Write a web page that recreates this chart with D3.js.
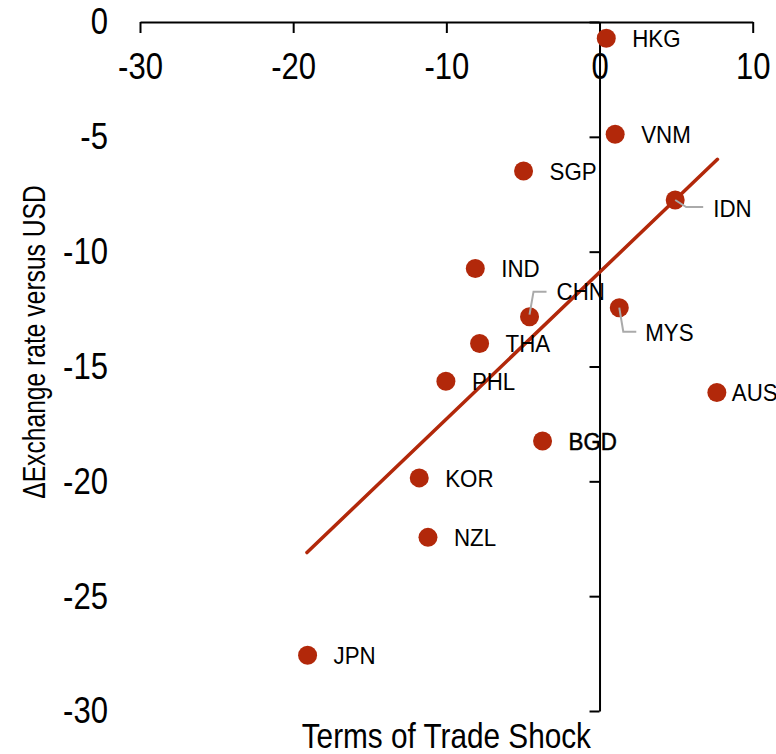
<!DOCTYPE html>
<html>
<head>
<meta charset="utf-8">
<script src="https://cdn.jsdelivr.net/npm/d3@7"></script>
<style>
  body { margin: 0; background: #fff; }
  text { font-family: "Liberation Sans", Arial, sans-serif; }
</style>
</head>
<body>
<div id="wrapper"></div>
<script>
const DOT_COLOR = "#b2280a";
const LEADER_COLOR = "#aaaaaa";

const countries = ["HKG", "VNM", "SGP", "IDN", "IND", "CHN", "MYS", "THA", "PHL", "AUS", "BGD", "KOR", "NZL", "JPN"];
const totShock = [0.44, 1.02, -4.96, 4.94, -8.11, -4.57, 1.29, -7.83, -10.03, 7.66, -3.72, -11.77, -11.2, -19.06];
const fxChange = [-0.71, -4.89, -6.49, -7.75, -10.73, -12.83, -12.44, -14.0, -15.64, -16.13, -18.24, -19.85, -22.44, -27.57];

const trendX = [-19.1, 7.7];
const trendY = [-23.1, -5.98];

const xTicks = [-30, -20, -10, 0, 10];
const yTicks = [0, -5, -10, -15, -20, -25, -30];

// label placement, px relative to the dot
const labelOffset = {
  AUS: [15, 0],
  IDN: [38, 8],
  CHN: [27, -25],
  MYS: [26, 25]
};
const leaders = {
  IDN: [[0, 0], [11, 7], [28, 7]],
  CHN: [[0, -2], [4, -25], [17, -25]],
  MYS: [[0, 0], [4, 24], [17, 24]]
};

// the original uses a narrow face, no narrow font here so squeeze it
const TICK_SQUEEZE = 0.84;
const LABEL_SQUEEZE = 0.93;

function drawChart() {
  const data = countries.map((c, i) => ({ name: c, x: totShock[i], y: fxChange[i] }));

  const width = 776;
  const height = 754;

  const svg = d3.select("#wrapper")
    .append("svg")
    .attr("width", width)
    .attr("height", height);

  const xScale = d3.scaleLinear()
    .domain([-30, 10])
    .range([140, 752.7]);

  const yScale = d3.scaleLinear()
    .domain([-30, 0])
    .range([711, 22]);

  // x axis along the top
  const xAxis = svg.append("g")
    .attr("transform", `translate(0, ${yScale(0)})`)
    .call(d3.axisBottom(xScale)
      .tickValues(xTicks)
      .tickSize(11)
      .tickSizeOuter(0)
      .tickPadding(20)
      .tickFormat(d => String(d)));

  xAxis.select(".domain").attr("stroke-width", 2);
  xAxis.selectAll(".tick line").attr("stroke-width", 2);
  xAxis.selectAll("text")
    .style("font-size", "37px")
    .attr("fill", "#000")
    .attr("transform", `scale(${TICK_SQUEEZE}, 1)`);

  // y axis on x = 0, labels pushed out to the left edge
  const yLabelX = 108 - xScale(0);
  const yAxis = svg.append("g")
    .attr("transform", `translate(${xScale(0)}, 0)`)
    .call(d3.axisLeft(yScale)
      .tickValues(yTicks)
      .tickSize(10)
      .tickSizeOuter(0)
      .tickFormat(d => String(d)));

  yAxis.select(".domain").attr("stroke-width", 2);
  yAxis.selectAll(".tick line").attr("stroke-width", 2);
  yAxis.selectAll("text")
    .attr("x", 0)
    .attr("transform", `translate(${yLabelX}, 0) scale(${TICK_SQUEEZE}, 1)`)
    .style("font-size", "37px")
    .attr("fill", "#000");

  // trend line
  svg.append("line")
    .attr("x1", xScale(trendX[0]))
    .attr("y1", yScale(trendY[0]))
    .attr("x2", xScale(trendX[1]))
    .attr("y2", yScale(trendY[1]))
    .attr("stroke", DOT_COLOR)
    .attr("stroke-width", 3.5)
    .attr("stroke-linecap", "round");

  svg.append("g")
    .selectAll("circle")
    .data(data)
    .join("circle")
    .attr("cx", d => xScale(d.x))
    .attr("cy", d => yScale(d.y))
    .attr("r", 9.5)
    .attr("fill", DOT_COLOR);

  svg.append("g")
    .selectAll("polyline")
    .data(data.filter(d => leaders[d.name]))
    .join("polyline")
    .attr("points", d => leaders[d.name]
      .map(p => [xScale(d.x) + p[0], yScale(d.y) + p[1]].join(","))
      .join(" "))
    .attr("fill", "none")
    .attr("stroke", LEADER_COLOR)
    .attr("stroke-width", 2);

  const offset = d => labelOffset[d.name] || [26, 0];

  svg.append("g")
    .selectAll("text")
    .data(data)
    .join("text")
    .attr("transform", d => `translate(${xScale(d.x) + offset(d)[0]}, ${yScale(d.y) + offset(d)[1]}) scale(${LABEL_SQUEEZE}, 1)`)
    .attr("dy", "0.36em")
    .style("font-size", "24px")
    .attr("fill", "#000")
    .attr("stroke", d => d.name === "BGD" ? "#000" : null)
    .attr("stroke-width", 0.5)
    .text(d => d.name);

  svg.append("text")
    .attr("transform", `translate(${(xScale(-30) + xScale(10)) / 2}, 748) scale(0.85, 1)`)
    .attr("text-anchor", "middle")
    .style("font-size", "35px")
    .text("Terms of Trade Shock");

  svg.append("text")
    .attr("transform", "translate(45, 342) rotate(-90) scale(0.77, 1)")
    .attr("text-anchor", "middle")
    .style("font-size", "32px")
    .text("ΔExchange rate versus USD");
}

drawChart();
</script>
</body>
</html>
